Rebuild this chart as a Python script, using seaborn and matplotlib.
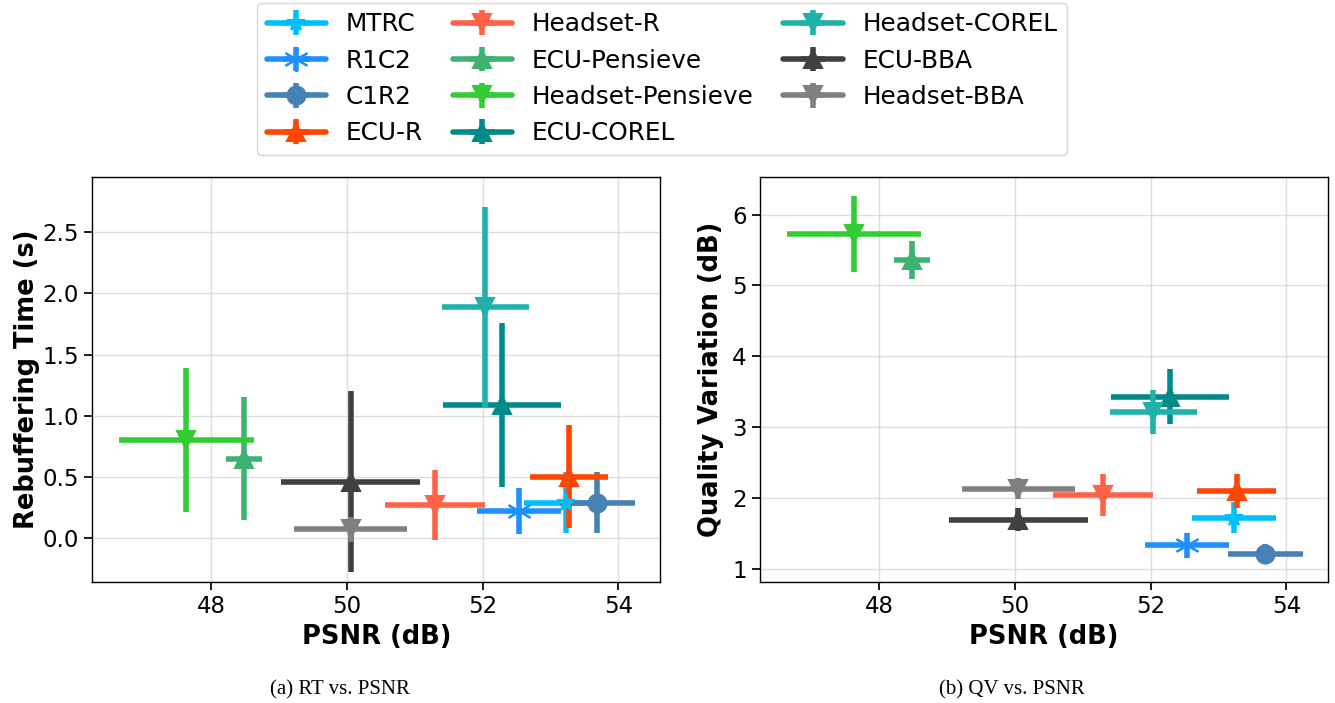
import numpy as np
import matplotlib
matplotlib.use("Agg")
import matplotlib.pyplot as plt
import seaborn as sns

methods = ['MTRC', 'R1C2', 'C1R2', 'ECU-R', 'Headset-R', 'ECU-Pensieve',
           'Headset-Pensieve', 'ECU-COREL', 'Headset-COREL', 'ECU-BBA', 'Headset-BBA']
colors = ['deepskyblue', 'dodgerblue', 'steelblue', 'orangered', 'tomato', 'mediumseagreen',
          'limegreen', 'darkcyan', 'lightseagreen', '#404040', 'gray']
markers = ['*', (6, 2, 0), 'o', '^', 'v', '^', 'v', '^', 'v', '^', 'v']
msizes = [13, 18, 13, 13, 13, 13, 13, 13, 13, 13, 13]

# PSNR mean and std (dB)
psnr = [53.23, 52.53, 53.69, 53.27, 51.30, 48.48, 47.63, 52.28, 52.04, 50.05, 50.05]
psnr_err = [0.62, 0.62, 0.55, 0.58, 0.74, 0.26, 0.99, 0.87, 0.64, 1.03, 0.83]

# rebuffering time (s)
rt = [0.29, 0.22, 0.29, 0.50, 0.27, 0.65, 0.80, 1.09, 1.89, 0.46, 0.07]
rt_err = [0.25, 0.19, 0.25, 0.42, 0.29, 0.50, 0.59, 0.67, 0.82, 0.74, 0.10]

# quality variation (dB)
qv = [1.72, 1.33, 1.21, 2.09, 2.04, 5.36, 5.73, 3.43, 3.21, 1.69, 2.13]
qv_err = [0.22, 0.18, 0.14, 0.24, 0.29, 0.27, 0.54, 0.39, 0.31, 0.16, 0.15]

sns.set_theme(style="ticks")
plt.rcParams['font.family'] = ['DejaVu Sans']
plt.rcParams['text.color'] = 'black'
plt.rcParams['axes.labelcolor'] = 'black'
plt.rcParams['xtick.color'] = 'black'
plt.rcParams['ytick.color'] = 'black'

fig, axes = plt.subplots(1, 2, figsize=(13.35, 7.03), dpi=100)
fig.subplots_adjust(left=0.069, right=0.995, top=0.748, bottom=0.172, wspace=0.175)

panels = [(axes[0], rt, rt_err, 'Rebuffering Time (s)', (-0.36, 2.95), 2),
          (axes[1], qv, qv_err, 'Quality Variation (dB)', (0.81, 6.53), 6)]

handles = []
for ax, yv, ye, ylab, ylim, pad in panels:
    handles = []
    for i, name in enumerate(methods):
        h = ax.errorbar(psnr[i], yv[i], xerr=psnr_err[i], yerr=ye[i],
                        color=colors[i], marker=markers[i], markersize=msizes[i],
                        markeredgewidth=1.5, linewidth=4, elinewidth=4, capsize=0,
                        linestyle='-', label=name)
        handles.append(h)
    ax.set_xlim(46.24, 54.62)
    ax.set_ylim(*ylim)
    ax.set_xticks([48, 50, 52, 54])
    ax.grid(True, color='#d0d0d0', alpha=0.7, linewidth=1)
    ax.set_axisbelow(True)
    ax.tick_params(labelsize=16.5)
    ax.set_xlabel('PSNR (dB)', fontsize=18.5, fontweight='bold')
    ax.set_ylabel(ylab, fontsize=18.5, fontweight='bold', labelpad=pad)
    for s in ax.spines.values():
        s.set_color('black')
        s.set_linewidth(1)

axes[1].set_yticks([1, 2, 3, 4, 5, 6])

fig.legend(handles=handles, labels=methods, loc='upper center', ncol=3,
           bbox_to_anchor=(0.496, 1.014), fontsize=17.8, handlelength=2.4,
           columnspacing=1.2, labelspacing=0.5, handletextpad=0.8, frameon=True)

fig.text(0.255, 0.012, '(a) RT vs. PSNR', ha='center', fontsize=15, family='Liberation Serif')
fig.text(0.758, 0.012, '(b) QV vs. PSNR', ha='center', fontsize=15, family='Liberation Serif')

fig.savefig('out.png', dpi=100)
